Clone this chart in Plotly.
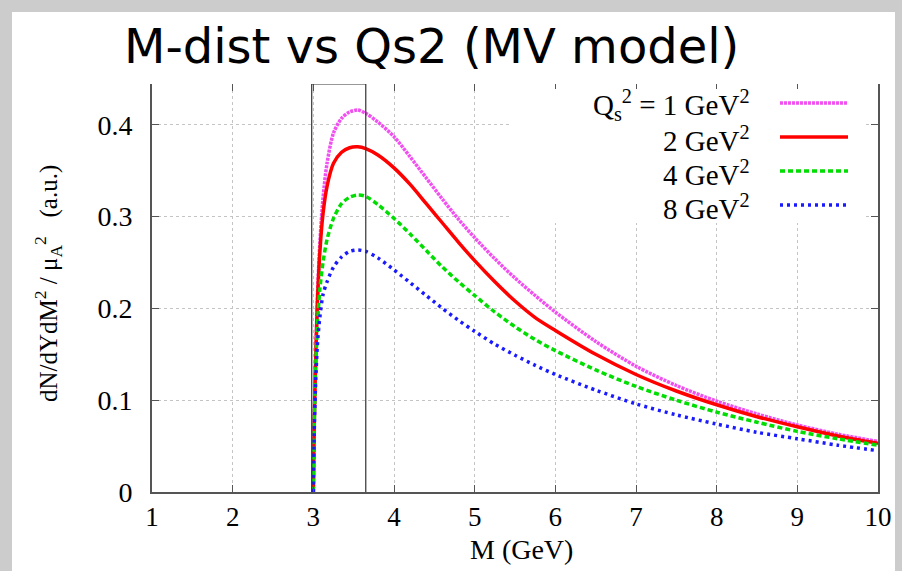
import plotly.graph_objects as go

# ---------------- data ----------------
M = [3.0, 3.01, 3.025, 3.05, 3.08, 3.12, 3.17, 3.25, 3.35, 3.45, 3.55, 3.65, 3.8, 4.0,
     4.2, 4.4, 4.6, 4.8, 5.0, 5.25, 5.5, 5.75, 6.0, 6.5, 7.0, 7.5, 8.0, 8.5, 9.0, 9.5, 10.0]

qs1 = [0.0, 0.07, 0.13, 0.21, 0.27, 0.32, 0.358, 0.391, 0.407, 0.414, 0.416, 0.4125, 0.403, 0.387,
       0.365, 0.342, 0.319, 0.297, 0.277, 0.254, 0.233, 0.214, 0.196, 0.164, 0.137, 0.116, 0.099,
       0.085, 0.073, 0.063, 0.055]
qs2 = [0.0, 0.07, 0.13, 0.205, 0.26, 0.303, 0.333, 0.358, 0.370, 0.375, 0.376, 0.374, 0.367, 0.353,
       0.335, 0.314, 0.293, 0.272, 0.252, 0.229, 0.208, 0.190, 0.176, 0.150, 0.128, 0.110, 0.095,
       0.082, 0.071, 0.061, 0.053]
qs4 = [0.0, 0.065, 0.125, 0.18, 0.22, 0.25, 0.275, 0.298, 0.314, 0.321, 0.3235, 0.322, 0.313, 0.298,
       0.281, 0.263, 0.245, 0.229, 0.214, 0.196, 0.180, 0.166, 0.154, 0.133, 0.115, 0.100, 0.087,
       0.076, 0.066, 0.058, 0.051]
qs8 = [0.0, 0.06, 0.11, 0.16, 0.19, 0.215, 0.229, 0.245, 0.256, 0.262, 0.2636, 0.262, 0.255, 0.242,
       0.228, 0.214, 0.200, 0.187, 0.175, 0.161, 0.149, 0.138, 0.128, 0.111, 0.096, 0.084, 0.074,
       0.065, 0.058, 0.051, 0.045]

series_names = ["Q<sub>s</sub><sup>2</sup> = 1 GeV<sup>2</sup>", "2 GeV<sup>2</sup>",
                "4 GeV<sup>2</sup>", "8 GeV<sup>2</sup>"]
series_vals = [qs1, qs2, qs4, qs8]
colors = ["#f050f0", "#ff0000", "#00dd00", "#1a1aff"]
dashes = ["3px,1px", "solid", "5px,3px", "3px,4px"]
widths = [3.5, 3.5, 3.5, 3.5]

xtick_vals = [1, 2, 3, 4, 5, 6, 7, 8, 9, 10]
ytick_vals = [0, 0.1, 0.2, 0.3, 0.4]
ytick_text = ["0", "0.1", "0.2", "0.3", "0.4"]

# ---------------- layout helpers (pixel -> paper) ----------------
L, R, T, B = 152, 878, 84, 492
def px(x):
    return (x - L) / (R - L)
def py(y):
    return (B - y) / (B - T)

SERIF = "Liberation Serif, Times New Roman, serif"

fig = go.Figure()
for name, vals, c, d, w in zip(series_names, series_vals, colors, dashes, widths):
    fig.add_trace(go.Scatter(x=M, y=vals, mode="lines", name=name,
                             line=dict(color=c, dash=d, width=w, shape="spline", smoothing=0.8),
                             showlegend=False, hoverinfo="skip"))
# dummy trace to activate top axis (ticks only)
fig.add_trace(go.Scatter(x=[None], y=[None], xaxis="x2", showlegend=False, hoverinfo="skip"))

shapes = []
# white panel over gray border
shapes.append(dict(type="rect", xref="paper", yref="paper", x0=px(12), x1=px(895),
                   y0=py(600), y1=py(12), fillcolor="white", line=dict(width=0), layer="below"))
# threshold box
shapes.append(dict(type="rect", xref="x", yref="y", x0=2.98, x1=3.65, y0=-0.006, y1=0.4444,
                   line=dict(color="#333333", width=1.2), fillcolor="rgba(0,0,0,0)", layer="above"))
# legend background box (hides grid)
shapes.append(dict(type="rect", xref="paper", yref="paper", x0=px(512), x1=px(866),
                   y0=py(223), y1=py(89), fillcolor="white", line=dict(width=0), layer="above"))

annotations = []
rows_y = [103, 137, 171, 205]
for name, c, d, w, ry in zip(series_names, colors, dashes, widths, rows_y):
    shapes.append(dict(type="line", xref="paper", yref="paper", x0=px(780), x1=px(848),
                       y0=py(ry), y1=py(ry), line=dict(color=c, dash=d, width=w), layer="above"))
    annotations.append(dict(text=name, xref="paper", yref="paper", x=px(752), y=py(ry + 2),
                            xanchor="right", yanchor="middle", showarrow=False,
                            font=dict(family=SERIF, size=29, color="black")))

annotations.append(dict(text="M (GeV)", xref="paper", yref="paper", x=px(521), y=py(549),
                        xanchor="center", yanchor="middle", showarrow=False,
                        font=dict(family=SERIF, size=28, color="black")))
annotations.append(dict(text="dN/dYdM<sup>2</sup> / μ<sub>A</sub><sup>2</sup>   (a.u.)",
                        xref="paper", yref="paper", x=px(48), y=py(284), textangle=-90,
                        xanchor="center", yanchor="middle", showarrow=False,
                        font=dict(family=SERIF, size=25, color="black")))

axis_color = "#555555"
grid_color = "#c4c4c4"
fig.update_layout(
    width=902, height=571,
    margin=dict(l=L, r=902 - R, t=T, b=571 - B, autoexpand=False),
    paper_bgcolor="#cccccc", plot_bgcolor="white",
    title=dict(text="M-dist vs Qs2 (MV model)", xref="container", yref="container",
               x=124 / 902, xanchor="left", y=1 - 46 / 571, yanchor="middle",
               font=dict(family="DejaVu Sans", size=48, color="black")),
    xaxis=dict(range=[1, 10], tickvals=xtick_vals, ticktext=[str(v) for v in xtick_vals],
               showline=True, linecolor=axis_color, linewidth=2, mirror=False,
               ticks="inside", ticklen=7, tickcolor=axis_color, tickwidth=1,
               showgrid=True, gridcolor=grid_color, griddash="dot", gridwidth=1,
               zeroline=False, ticklabelstandoff=0,
               tickfont=dict(family=SERIF, size=27, color="black")),
    xaxis2=dict(range=[1, 10], overlaying="x", side="top", tickvals=xtick_vals,
                showticklabels=False, ticks="inside", ticklen=7, tickcolor=axis_color,
                showline=False, showgrid=False, zeroline=False),
    yaxis=dict(range=[0, 0.4444], tickvals=ytick_vals, ticktext=ytick_text,
               showline=True, linecolor=axis_color, linewidth=2, mirror="ticks",
               ticks="inside", ticklen=7, tickcolor=axis_color, tickwidth=1,
               showgrid=True, gridcolor=grid_color, griddash="dot", gridwidth=1,
               zeroline=False, ticklabelstandoff=12,
               tickfont=dict(family=SERIF, size=28, color="black")),
    shapes=shapes, annotations=annotations,
)

fig.write_html("out.html")
